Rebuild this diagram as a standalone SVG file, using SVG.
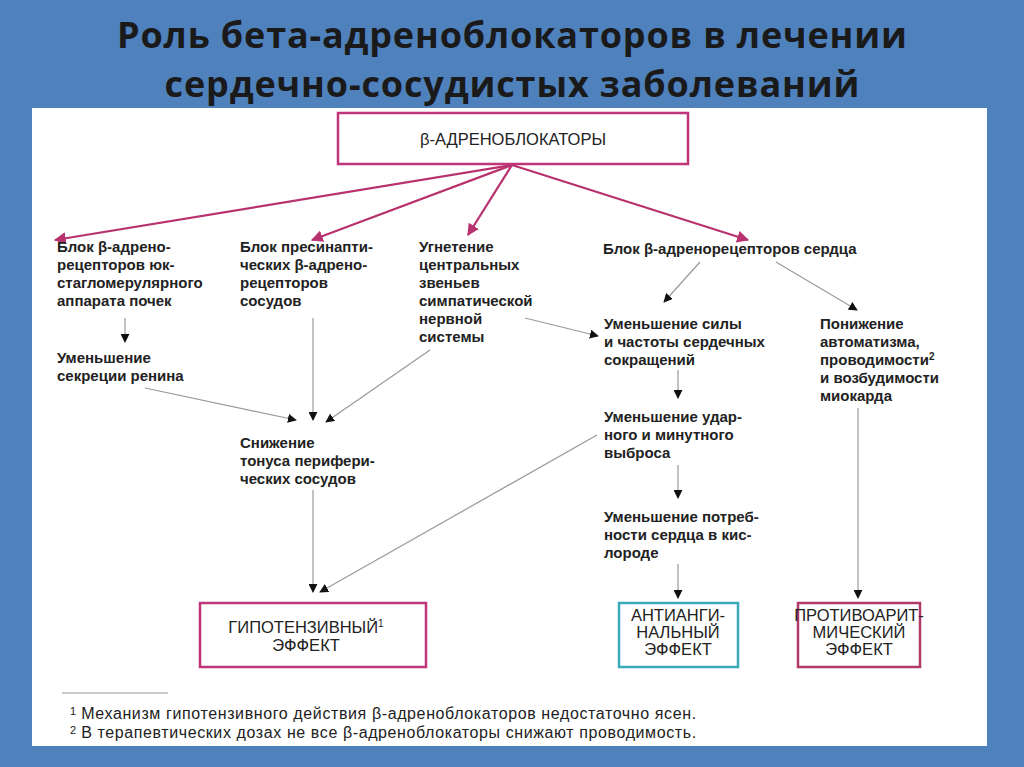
<svg xmlns="http://www.w3.org/2000/svg" width="1024" height="767" viewBox="0 0 1024 767">
<defs>
<marker id="ab" viewBox="0 0 10 10" refX="9" refY="5" markerWidth="9" markerHeight="9" markerUnits="userSpaceOnUse" orient="auto"><path d="M0,0 L10,5 L0,10 z" fill="#111"/></marker>
<marker id="am" viewBox="0 0 10 10" refX="9" refY="5" markerWidth="12" markerHeight="12" markerUnits="userSpaceOnUse" orient="auto"><path d="M0,0 L10,5 L0,10 z" fill="#b8326f"/></marker>
</defs>
<style>
.t{font-family:"Liberation Sans",Arial,sans-serif;font-size:15px;fill:#222;font-weight:bold}
.h{font-family:"Open Sans","Liberation Sans",sans-serif;font-size:36px;font-weight:bold;fill:#1a1a1a}
.b{font-family:"Liberation Sans",Arial,sans-serif;font-size:16.5px;fill:#222}
.f{font-family:"Liberation Sans",Arial,sans-serif;font-size:16px;fill:#222}
.g{stroke:#999;stroke-width:1.2;fill:none;marker-end:url(#ab)}
.m{stroke:#b8326f;stroke-width:2.2;fill:none;marker-end:url(#am)}
.bx{fill:#fff;stroke-width:2.5}
</style>
<rect width="1024" height="767" fill="#4f81bd"/>
<text class="h" x="512" y="48" text-anchor="middle" textLength="790">Роль бета-адреноблокаторов в лечении</text>
<text class="h" x="512" y="97" text-anchor="middle" textLength="695">сердечно-сосудистых заболеваний</text>
<rect x="32" y="108" width="955" height="638" fill="#fff"/>
<g id="connectors">
<path class="m" d="M512,165 L55,240"/>
<path class="m" d="M512,165 L312,240"/>
<path class="m" d="M512,165 L468,235"/>
<path class="m" d="M512,165 L748,240"/>
<path class="g" d="M125,318 L125,342"/>
<path class="g" d="M145,388 L296,420"/>
<path class="g" d="M313,318 L313,420"/>
<path class="g" d="M430,350 L326,422"/>
<path class="g" d="M525,318 L598,336"/>
<path class="g" d="M700,262 L664,302"/>
<path class="g" d="M776,262 L857,310"/>
<path class="g" d="M678,370 L678,398"/>
<path class="g" d="M678,465 L678,498"/>
<path class="g" d="M313,490 L313,592"/>
<path class="g" d="M597,435 L320,592"/>
<path class="g" d="M678,564 L678,598"/>
<path class="g" d="M858,408 L858,598"/>
</g>
<g id="top"><rect class="bx" x="338" y="113" width="350" height="51" stroke="#c0357a"/><text class="b" x="513" y="145" text-anchor="middle">β-АДРЕНОБЛОКАТОРЫ</text></g>
<g id="n1"><text class="t" x="57" y="252">Блок β-адрено-<tspan x="57" dy="18">рецепторов юк-</tspan><tspan x="57" dy="18">стагломерулярного</tspan><tspan x="57" dy="18">аппарата почек</tspan></text></g>
<g id="n2"><text class="t" x="240" y="252">Блок пресинапти-<tspan x="240" dy="18">ческих β-адрено-</tspan><tspan x="240" dy="18">рецепторов</tspan><tspan x="240" dy="18">сосудов</tspan></text></g>
<g id="n3"><text class="t" x="419" y="252">Угнетение<tspan x="419" dy="18">центральных</tspan><tspan x="419" dy="18">звеньев</tspan><tspan x="419" dy="18">симпатической</tspan><tspan x="419" dy="18">нервной</tspan><tspan x="419" dy="18">системы</tspan></text></g>
<g id="n4"><text class="t" x="603" y="254">Блок β-адренорецепторов сердца</text></g>
<g id="n5"><text class="t" x="57" y="363">Уменьшение<tspan x="57" dy="18">секреции ренина</tspan></text></g>
<g id="n6"><text class="t" x="240" y="448">Снижение<tspan x="240" dy="18">тонуса перифери-</tspan><tspan x="240" dy="18">ческих сосудов</tspan></text></g>
<g id="n7"><text class="t" x="604" y="329">Уменьшение силы<tspan x="604" dy="18">и частоты сердечных</tspan><tspan x="604" dy="18">сокращений</tspan></text></g>
<g id="n8"><text class="t" x="820" y="329">Понижение<tspan x="820" dy="18">автоматизма,</tspan><tspan x="820" dy="18">проводимости<tspan font-size="10" dy="-5">2</tspan></tspan><tspan x="820" dy="23">и возбудимости</tspan><tspan x="820" dy="18">миокарда</tspan></text></g>
<g id="n9"><text class="t" x="604" y="422">Уменьшение удар-<tspan x="604" dy="18">ного и минутного</tspan><tspan x="604" dy="18">выброса</tspan></text></g>
<g id="n10"><text class="t" x="604" y="522">Уменьшение потреб-<tspan x="604" dy="18">ности сердца в кис-</tspan><tspan x="604" dy="18">лороде</tspan></text></g>
<g id="e1"><rect class="bx" x="200" y="603" width="226" height="64" stroke="#c0357a"/><text class="b" x="306" y="633" text-anchor="middle">ГИПОТЕНЗИВНЫЙ<tspan font-size="10" dy="-6">1</tspan><tspan x="306" dy="24">ЭФФЕКТ</tspan></text></g>
<g id="e2"><rect class="bx" x="619" y="603" width="119" height="64" stroke="#3aa9b8"/><text class="b" x="678" y="621" text-anchor="middle">АНТИАНГИ-<tspan x="678" dy="17">НАЛЬНЫЙ</tspan><tspan x="678" dy="17">ЭФФЕКТ</tspan></text></g>
<g id="e3"><rect class="bx" x="798" y="603" width="122" height="64" stroke="#b03a6a"/><text class="b" x="859" y="621" text-anchor="middle" font-size="15.5">ПРОТИВОАРИТ-<tspan x="859" dy="17">МИЧЕСКИЙ</tspan><tspan x="859" dy="17">ЭФФЕКТ</tspan></text></g>
<g id="notes">
<line x1="62" y1="693" x2="168" y2="693" stroke="#999"/>
<text class="f" x="70" y="719"><tspan font-size="11" dy="-4">1</tspan><tspan dy="4" textLength="620"> Механизм гипотензивного действия β-адреноблокаторов недостаточно ясен.</tspan></text>
<text class="f" x="70" y="738"><tspan font-size="11" dy="-4">2</tspan><tspan dy="4" textLength="620"> В терапевтических дозах не все β-адреноблокаторы снижают проводимость.</tspan></text>
</g>
</svg>
